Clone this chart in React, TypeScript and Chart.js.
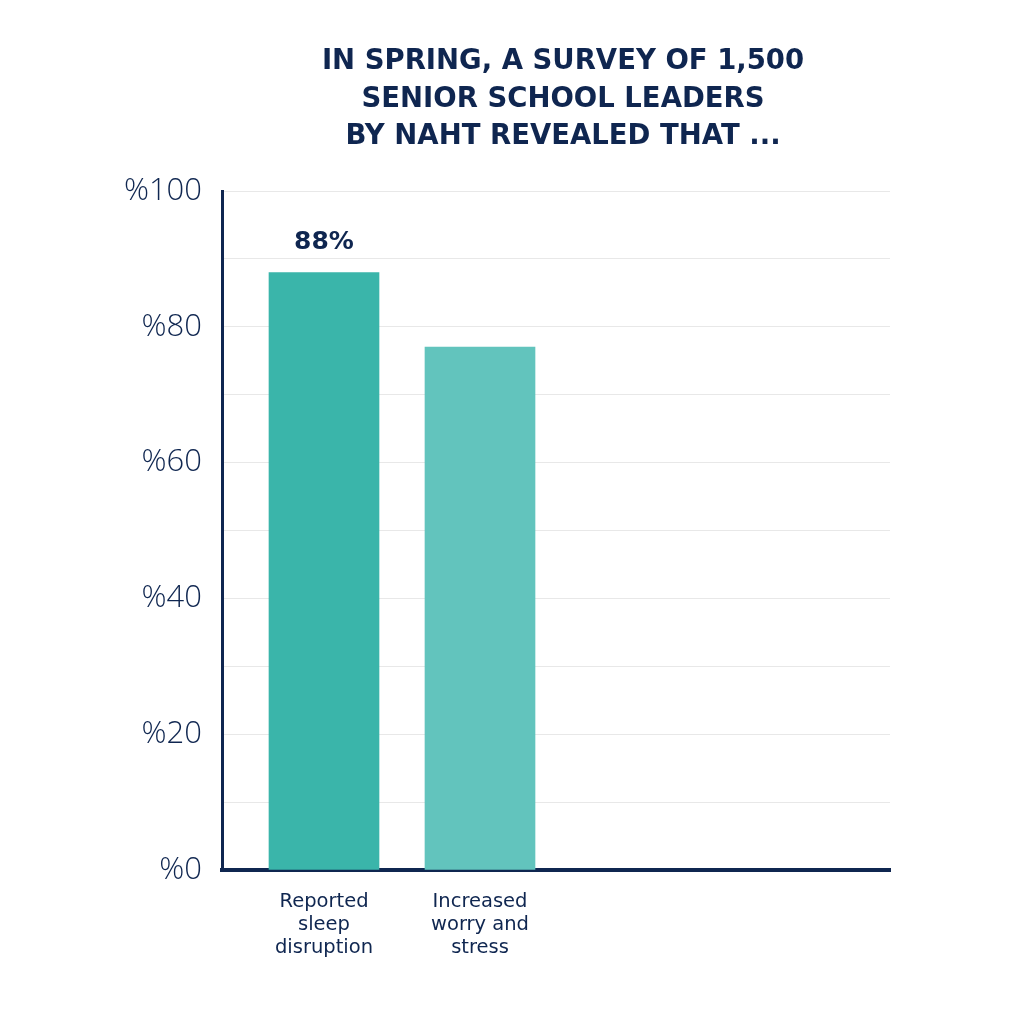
import React, { useEffect, useRef } from 'react';
import Chart from 'chart.js/auto';

const NAVY = '#0f2650';

const titleLines = ['IN SPRING, A SURVEY OF 1,500', 'SENIOR SCHOOL LEADERS', 'BY NAHT REVEALED THAT ...'];
const categories = [['Reported', 'sleep', 'disruption'], ['Increased', 'worry and', 'stress']];
const positions = [1, 2];
const values = [88, 77];
const valueLabels = ['88%', ''];
const barColors = ['#3ab5aa', '#62c4bd'];

// value label above the bars that carry one
const valueLabelPlugin = {
  id: 'valueLabel',
  afterDatasetsDraw(chart: any) {
    const ctx = chart.ctx;
    const meta = chart.getDatasetMeta(0);
    ctx.save();
    ctx.fillStyle = NAVY;
    ctx.font = 'bold 25px "DejaVu Sans"';
    ctx.textAlign = 'center';
    ctx.textBaseline = 'bottom';
    meta.data.forEach((bar: any, i: number) => {
      if (!valueLabels[i]) return;
      ctx.fillText(valueLabels[i], bar.x, bar.y - 17);
    });
    ctx.restore();
  },
};

// heading, centred a little right of the plot centre like the original
const headingPlugin = {
  id: 'heading',
  afterDraw(chart: any) {
    const ctx = chart.ctx;
    const cx = (chart.chartArea.left + chart.chartArea.right) / 2 + 7;
    ctx.save();
    ctx.fillStyle = NAVY;
    ctx.font = 'bold 27.5px "DejaVu Sans"';
    ctx.textAlign = 'center';
    ctx.textBaseline = 'middle';
    titleLines.forEach((line, i) => ctx.fillText(line, cx, 62 + i * 37.5));
    ctx.restore();
  },
};

export default function App() {
  const canvasRef = useRef<HTMLCanvasElement>(null);

  useEffect(() => {
    if (!canvasRef.current) return;
    const chart = new Chart(canvasRef.current, {
      type: 'bar',
      data: {
        datasets: [
          {
            data: values.map((v, i) => ({ x: positions[i], y: v })),
            backgroundColor: barColors,
            barThickness: 110,
          },
        ],
      },
      plugins: [valueLabelPlugin, headingPlugin],
      options: {
        animation: false,
        responsive: true,
        maintainAspectRatio: false,
        layout: { padding: { left: 0, right: 127, top: 191, bottom: 0 } },
        plugins: {
          legend: { display: false },
          tooltip: { enabled: false },
          title: { display: false },
        },
        scales: {
          x: {
            type: 'linear',
            offset: false,
            min: 1 - 102 / 156,
            max: 1 - 102 / 156 + 668 / 156,
            afterBuildTicks: (scale: any) => {
              scale.ticks = positions.map((p) => ({ value: p }));
            },
            afterFit: (scale: any) => {
              scale.height = 147;
            },
            grid: { display: false, drawTicks: false, offset: false },
            border: { color: NAVY, width: 4 },
            ticks: {
              autoSkip: false,
              maxRotation: 0,
              padding: 20,
              color: NAVY,
              font: { family: 'DejaVu Sans', size: 19.5, lineHeight: 1.18 },
              callback: (v: any) => {
                const i = positions.indexOf(Number(v));
                return i >= 0 ? categories[i] : '';
              },
            },
          },
          y: {
            min: 0,
            max: 100,
            afterFit: (scale: any) => {
              scale.width = 222;
            },
            grid: { color: '#e8e8e8', lineWidth: 1, drawTicks: false },
            border: { color: NAVY, width: 3 },
            ticks: {
              stepSize: 10,
              padding: 20,
              color: NAVY,
              font: { family: 'Open Sans', size: 31, weight: 300 },
              callback: (v: any) => (Number(v) % 20 === 0 ? '%' + v : ''),
            },
          },
        },
      },
    });
    return () => chart.destroy();
  }, []);

  return (
    <div style={{ position: 'fixed', left: 0, top: 0, width: 1017, height: 1017, background: '#fff' }}>
      <canvas ref={canvasRef} />
    </div>
  );
}
